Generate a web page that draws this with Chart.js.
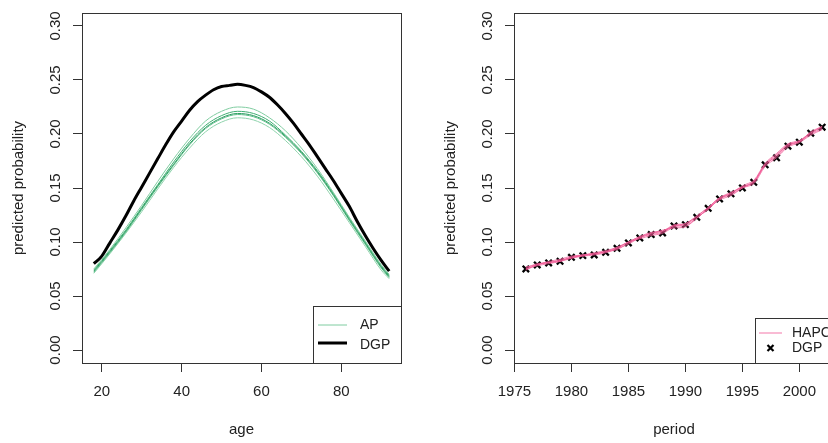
<!DOCTYPE html>
<html>
<head>
<meta charset="utf-8">
<script src="https://cdn.jsdelivr.net/npm/chart.js@4.4.1/dist/chart.umd.min.js"></script>
<style>
html,body{margin:0;padding:0;background:#fff;width:828px;height:443px;overflow:hidden;}
#p1{position:absolute;left:0;top:0;width:414px;height:443px;}
#p2{position:absolute;left:414px;top:0;width:440px;height:443px;}
</style>
</head>
<body>
<div id="p1"><canvas id="c1" width="414" height="443"></canvas></div>
<div id="p2"><canvas id="c2" width="440" height="443"></canvas></div>
<script>
// ---------- data: left panel (age) ----------
const yTicks = [0, 0.05, 0.10, 0.15, 0.20, 0.25, 0.30];
const ageTicks = [20, 40, 60, 80];
const periodTicks = [1975, 1980, 1985, 1990, 1995, 2000];

const ageDGP = [18,20,22,24,26,28,30,32,34,36,38,40,42,44,46,48,50,52,54,56,58,60,62,64,66,68,70,72,74,76,78,80,82,84,86,88,90,92];
const dgpAge = [0.080,0.087,0.099,0.111,0.124,0.138,0.151,0.164,0.177,0.190,0.202,0.212,0.222,0.230,0.236,0.241,0.244,0.245,0.246,0.245,0.243,0.239,0.234,0.227,0.219,0.210,0.200,0.190,0.179,0.168,0.157,0.145,0.133,0.119,0.106,0.094,0.083,0.073];

const ageAP = [18,22,26,30,34,38,42,46,50,54,58,62,66,70,74,78,82,86,90,92];
const ap1 = [0.075,0.093,0.113,0.134,0.156,0.177,0.196,0.212,0.221,0.225,0.223,0.215,0.203,0.187,0.168,0.146,0.123,0.101,0.079,0.070];
const ap2 = [0.074,0.092,0.111,0.132,0.153,0.174,0.193,0.208,0.217,0.221,0.219,0.212,0.199,0.184,0.166,0.145,0.122,0.100,0.078,0.069];
const ap3 = [0.073,0.091,0.110,0.131,0.152,0.172,0.191,0.206,0.215,0.219,0.217,0.210,0.198,0.183,0.165,0.144,0.121,0.099,0.077,0.068];
const ap4 = [0.072,0.090,0.109,0.130,0.151,0.171,0.190,0.205,0.214,0.218,0.216,0.209,0.197,0.182,0.164,0.143,0.120,0.098,0.076,0.067];
const ap5 = [0.071,0.089,0.108,0.128,0.149,0.169,0.187,0.202,0.211,0.215,0.213,0.206,0.194,0.179,0.161,0.140,0.118,0.096,0.074,0.066];

// ---------- data: right panel (period) ----------
const periods = [1976,1977,1978,1979,1980,1981,1982,1983,1984,1985,1986,1987,1988,1989,1990,1991,1992,1993,1994,1995,1996,1997,1998,1999,2000,2001,2002];
const dgpPeriod = [0.0751,0.0788,0.0806,0.0821,0.0858,0.0874,0.0880,0.0905,0.0942,0.0991,0.1038,0.1069,0.1084,0.1149,0.1161,0.1229,0.1312,0.1399,0.1446,0.1501,0.1553,0.1715,0.1779,0.1887,0.1924,0.2007,0.2063];
const hapc1 = [0.074,0.079,0.081,0.083,0.086,0.088,0.089,0.091,0.093,0.099,0.104,0.108,0.111,0.113,0.114,0.122,0.131,0.139,0.143,0.150,0.156,0.171,0.180,0.190,0.193,0.200,0.205];
const hapc2 = [0.076,0.080,0.081,0.083,0.085,0.087,0.089,0.091,0.095,0.100,0.105,0.109,0.110,0.115,0.117,0.124,0.132,0.141,0.145,0.152,0.157,0.173,0.182,0.191,0.194,0.201,0.207];
const hapc3 = [0.075,0.078,0.080,0.082,0.086,0.087,0.088,0.090,0.094,0.100,0.103,0.106,0.108,0.114,0.116,0.123,0.130,0.140,0.144,0.150,0.154,0.170,0.178,0.188,0.192,0.199,0.204];
const hapc4 = [0.075,0.079,0.081,0.082,0.085,0.088,0.089,0.091,0.094,0.098,0.104,0.107,0.109,0.115,0.115,0.122,0.131,0.140,0.145,0.151,0.155,0.172,0.179,0.189,0.193,0.201,0.206];
const hapc5 = [0.077,0.079,0.082,0.084,0.087,0.088,0.090,0.092,0.095,0.100,0.105,0.108,0.110,0.116,0.117,0.124,0.132,0.141,0.146,0.151,0.156,0.172,0.181,0.190,0.193,0.202,0.207];

// ---------- styling ----------
const FONT = "'Liberation Sans', Arial, Helvetica, sans-serif";
const TEXT = '#222';
const AXIS = '#333';
const apColors = ['#7fcca0', '#3fae72', '#2e9e63', '#5cbd88', '#8fd3ac'];
const hapcColor = 'rgba(240,90,150,0.75)';

Chart.defaults.font.family = FONT;
Chart.defaults.color = TEXT;

function pts(xs, ys) { return xs.map((x, i) => ({x: x, y: ys[i]})); }

function yScale(width) {
  return {
    type: 'linear', min: -0.012, max: 0.312,
    afterBuildTicks: s => { s.ticks = yTicks.map(v => ({value: v})); },
    afterFit: s => { s.width = width; },
    ticks: { callback: v => Number(v).toFixed(2), minRotation: 90, maxRotation: 90, crossAlign: 'center', padding: 3, font: {size: 15}, color: TEXT },
    grid: { drawOnChartArea: false, drawTicks: true, tickLength: 9, color: AXIS, lineWidth: 1 },
    border: { display: false },
    title: { display: true, text: 'predicted probability', font: {size: 15}, color: TEXT, padding: {top: width === 82 ? 10 : 28, bottom: 0} }
  };
}
function xScale(min, max, ticks, title) {
  return {
    type: 'linear', min: min, max: max,
    afterBuildTicks: s => { s.ticks = ticks.map(v => ({value: v})); },
    afterFit: s => { s.height = 80; },
    ticks: { callback: v => String(v), maxRotation: 0, minRotation: 0, padding: 11, font: {size: 15}, color: TEXT, autoSkip: false },
    grid: { drawOnChartArea: false, drawTicks: true, tickLength: 9, color: AXIS, lineWidth: 1 },
    border: { display: false },
    title: { display: true, text: title, font: {size: 15}, color: TEXT, padding: {top: 0, bottom: 4} }
  };
}

// box + legend plugin
function boxLegend(legend) {
  return {
    id: 'boxLegend',
    afterDatasetsDraw(chart) {
      const {ctx, chartArea: a} = chart;
      ctx.save();
      ctx.strokeStyle = AXIS; ctx.lineWidth = 1;
      ctx.strokeRect(Math.round(a.left) + 0.5, Math.round(a.top) + 0.5, Math.round(a.right - a.left), Math.round(a.bottom - a.top));
      const L = legend;
      ctx.fillStyle = '#fff';
      ctx.fillRect(L.x, L.y, L.w, L.h);
      ctx.strokeStyle = AXIS;
      ctx.strokeRect(L.x + 0.5, L.y + 0.5, L.w, L.h);
      ctx.font = L.fontSize + 'px ' + FONT;
      ctx.textBaseline = 'middle';
      ctx.textAlign = 'left';
      L.items.forEach(it => {
        const ds = chart.data.datasets[it.ds];
        if (it.kind === 'line') {
          ctx.strokeStyle = it.color || ds.borderColor;
          ctx.lineWidth = it.lw;
          ctx.beginPath(); ctx.moveTo(it.x0, it.y); ctx.lineTo(it.x1, it.y); ctx.stroke();
        } else {
          ctx.strokeStyle = '#000'; ctx.lineWidth = 2.2;
          const r = 3; const cx = (it.x0 + it.x1) / 2;
          ctx.beginPath();
          ctx.moveTo(cx - r, it.y - r); ctx.lineTo(cx + r, it.y + r);
          ctx.moveTo(cx + r, it.y - r); ctx.lineTo(cx - r, it.y + r);
          ctx.stroke();
        }
        ctx.fillStyle = TEXT;
        ctx.fillText(ds.label, L.tx, it.ty);
      });
      ctx.restore();
    }
  };
}

const apSets = [ap1, ap2, ap3, ap4, ap5].map((d, i) => ({
  label: 'AP', data: pts(ageAP, d), borderColor: apColors[i], borderWidth: 1,
  pointRadius: 0, cubicInterpolationMode: 'monotone', fill: false
}));

new Chart(document.getElementById('c1'), {
  type: 'line',
  data: {
    datasets: [
      ...apSets,
      { label: 'DGP', data: pts(ageDGP, dgpAge), borderColor: '#000', borderWidth: 3, pointRadius: 0, cubicInterpolationMode: 'monotone', fill: false }
    ]
  },
  options: {
    responsive: false, animation: false, devicePixelRatio: 1,
    layout: { padding: { top: 13, right: 13, left: 0, bottom: 0 } },
    plugins: { legend: { display: false }, tooltip: { enabled: false } },
    scales: { x: xScale(15.04, 94.96, ageTicks, 'age'), y: yScale(82) }
  },
  plugins: [boxLegend({
    x: 313, y: 306, w: 88, h: 57, fontSize: 14, tx: 360,
    items: [
      { ds: 0, kind: 'line', lw: 1, color: '#7fcca0', x0: 318, x1: 347, y: 325, ty: 325.5 },
      { ds: 5, kind: 'line', lw: 3, color: '#000', x0: 318, x1: 347, y: 343, ty: 345 }
    ]
  })]
});

const hapcSets = [hapc1, hapc2, hapc3, hapc4, hapc5].map(d => ({
  label: 'HAPC', data: pts(periods, d), borderColor: hapcColor, borderWidth: 1,
  pointRadius: 0, tension: 0.3, fill: false
}));

new Chart(document.getElementById('c2'), {
  type: 'line',
  data: {
    datasets: [
      ...hapcSets,
      { label: 'DGP', data: pts(periods, dgpPeriod), showLine: false, pointStyle: 'crossRot', pointRadius: 4.5, pointBorderWidth: 2.3, pointBorderColor: '#000', pointBackgroundColor: '#000', borderColor: '#000' }
    ]
  },
  options: {
    responsive: false, animation: false, devicePixelRatio: 1,
    layout: { padding: { top: 13, right: 20, left: 0, bottom: 0 } },
    plugins: { legend: { display: false }, tooltip: { enabled: false } },
    scales: { x: xScale(1974.96, 2003.04, periodTicks, 'period'), y: yScale(100) }
  },
  plugins: [boxLegend({
    x: 341, y: 318, w: 100, h: 45, fontSize: 14, tx: 378,
    items: [
      { ds: 0, kind: 'line', lw: 1.2, color: 'rgba(244,130,175,0.9)', x0: 345, x1: 368, y: 333, ty: 333 },
      { ds: 5, kind: 'x', x0: 345, x1: 368, y: 348, ty: 348 }
    ]
  })]
});
</script>
</body>
</html>
